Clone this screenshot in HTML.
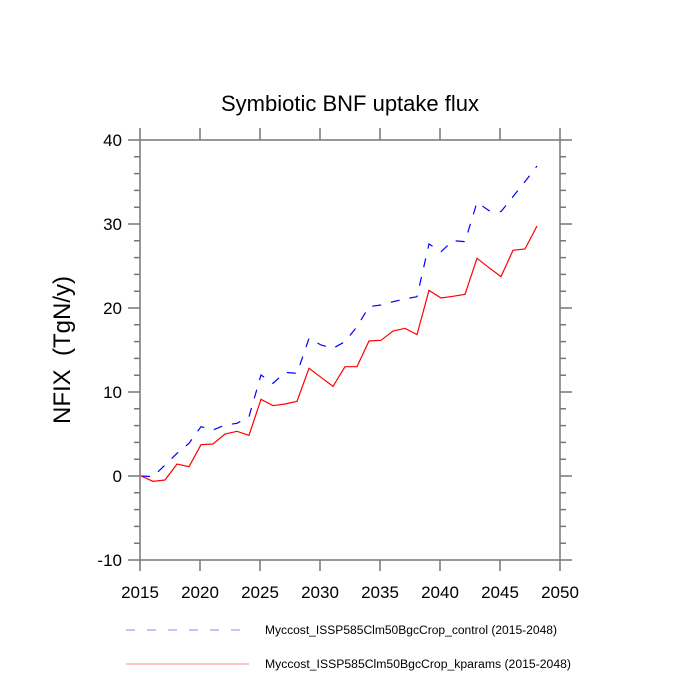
<!DOCTYPE html>
<html><head><meta charset="utf-8"><style>html,body{margin:0;padding:0;background:#fff}svg{display:block}</style></head>
<body>
<svg width="700" height="700" viewBox="0 0 700 700" xmlns="http://www.w3.org/2000/svg" font-family="Liberation Sans, sans-serif">
<rect width="700" height="700" fill="#fff"/>
<text x="350" y="111" font-size="22" text-anchor="middle">Symbiotic BNF uptake flux</text>
<text transform="translate(70,350) rotate(-90)" font-size="24" text-anchor="middle">NFIX&#160; (TgN/y)</text>
<g stroke="#777" stroke-width="1.5" fill="none">
<rect x="140" y="140" width="420" height="420"/>
<path d="M140,140h-12M140,224h-12M140,308h-12M140,392h-12M140,476h-12M140,560h-12
M560,140h12M560,224h12M560,308h12M560,392h12M560,476h12M560,560h12
M140,560v11M200,560v11M260,560v11M320,560v11M380,560v11M440,560v11M500,560v11M560,560v11
M140,140v-12M200,140v-12M260,140v-12M320,140v-12M380,140v-12M440,140v-12M500,140v-12M560,140v-12"/>
<path d="M140,156.8h-6M140,173.6h-6M140,190.4h-6M140,207.2h-6M140,240.8h-6M140,257.6h-6M140,274.4h-6M140,291.2h-6M140,324.8h-6M140,341.6h-6M140,358.4h-6M140,375.2h-6M140,408.8h-6M140,425.6h-6M140,442.4h-6M140,459.2h-6M140,492.8h-6M140,509.6h-6M140,526.4h-6M140,543.2h-6
M560,156.8h6M560,173.6h6M560,190.4h6M560,207.2h6M560,240.8h6M560,257.6h6M560,274.4h6M560,291.2h6M560,324.8h6M560,341.6h6M560,358.4h6M560,375.2h6M560,408.8h6M560,425.6h6M560,442.4h6M560,459.2h6M560,492.8h6M560,509.6h6M560,526.4h6M560,543.2h6"/>
</g>
<g font-size="17" text-anchor="end">
<text x="122" y="146">40</text><text x="122" y="230">30</text><text x="122" y="314">20</text>
<text x="122" y="398">10</text><text x="122" y="482">0</text><text x="122" y="566">-10</text>
</g>
<g font-size="17" text-anchor="middle">
<text x="140" y="598">2015</text><text x="200" y="598">2020</text><text x="260" y="598">2025</text><text x="320" y="598">2030</text>
<text x="380" y="598">2035</text><text x="440" y="598">2040</text><text x="500" y="598">2045</text><text x="560" y="598">2050</text>
</g>
<g transform="translate(130,150) scale(0.33333)" fill="none">
<polyline stroke="#00f" stroke-width="3.6" stroke-dasharray="27,30" points="33,978 69,980 105,945 141,910 177,880 213,830 249,840 285,825 321,820 357,800 393,675 429,700 465,667 501,670 537,565 573,585 609,595 645,575 681,530 717,470 753,465 789,455 825,447 861,440 897,282 933,305 969,272 1005,275 1041,157 1077,182 1113,185 1149,140 1185,95 1221,48"/>
<polyline stroke="#f00" stroke-width="3.6" points="33,978 69,994 105,990 141,942 177,950 213,884 249,882 285,852 321,844 357,856 393,748 429,767 465,762 501,754 537,655 573,682 609,709 645,650 681,650 717,573 753,571 789,543 825,535 861,554 897,421 933,444 969,439 1005,433 1041,325 1077,353 1113,380 1149,301 1185,297 1221,228"/>
</g>
<line x1="126" y1="630" x2="249" y2="630" stroke="#88f" stroke-width="1" stroke-dasharray="9,12"/>
<line x1="126" y1="664" x2="249" y2="664" stroke="#f88" stroke-width="1"/>
<g font-size="11.5">
<text x="265" y="634" textLength="292" lengthAdjust="spacingAndGlyphs">Myccost_ISSP585Clm50BgcCrop_control (2015-2048)</text>
<text x="265" y="668" textLength="306" lengthAdjust="spacingAndGlyphs">Myccost_ISSP585Clm50BgcCrop_kparams (2015-2048)</text>
</g>
</svg>
</body></html>
